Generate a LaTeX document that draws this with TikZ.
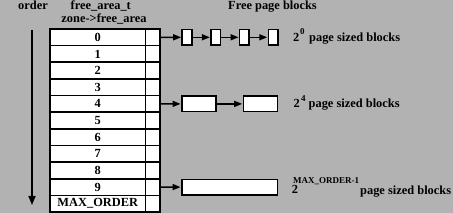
\documentclass[tikz,border=0pt]{standalone}
\usepackage{fontspec}
\setmainfont{Liberation Serif}
\usetikzlibrary{arrows.meta}
\definecolor{bg}{gray}{0.7}
\begin{document}
\begin{tikzpicture}[x=1pt,y=-1pt,
  txt/.style={font=\bfseries\fontsize{12.4}{13}\selectfont, inner sep=0pt},
  suptxt/.style={font=\bfseries\fontsize{9}{9}\selectfont, inner sep=0pt},
  cell/.style={draw, line width=1.6pt, fill=white, minimum height=16.64pt, inner sep=0pt, font=\bfseries\fontsize{12.4}{13}\selectfont},
  blk/.style={draw, line width=1.6pt, fill=white, minimum height=15.5pt, inner sep=0pt},
  arr/.style={line width=1.5pt, -{Triangle[length=8pt,width=6pt]}, shorten >=0.3pt}]
\fill[bg] (0,0) rectangle (453,213);
\useasboundingbox (0,0) rectangle (453,213);
% headers
\node[txt, anchor=base] (order) at (33,10) {order};
\node[txt, anchor=base] (fat) at (100.8,10) {free\_area\_t};
\node[txt, anchor=base] (zfa) at (104,22.5) {zone->free\_area};
\node[txt, anchor=base] (fpb) at (272.5,10) {Free page blocks};
% order arrow
\coordinate (otop) at (32,30);
\coordinate (obot) at (32,205);
\draw[line width=1.6pt, -{Triangle[length=9pt,width=7pt]}] (otop) -- (obot);
% table
\foreach \i/\t in {0/0,1/1,2/2,3/3,4/4,5/5,6/6,7/7,8/8,9/9,10/MAX\_ORDER} {
  \node[cell, minimum width=95.5pt] (r\i) at (97.75,{29+16.64*(\i+0.5)}) {\t};
  \node[cell, minimum width=14.5pt] (p\i) at (152.75,{29+16.64*(\i+0.5)}) {};
}
% row 0 blocks
\node[blk, minimum width=9.5pt] (b00) at (187,37.3) {};
\node[blk, minimum width=9.5pt] (b01) at (215.7,37.3) {};
\node[blk, minimum width=9.5pt] (b02) at (244.4,37.3) {};
\node[blk, minimum width=9.5pt] (b03) at (273.1,37.3) {};
\draw[arr] (p0.east) -- (b00.west);
\draw[arr] (b00.east) -- (b01.west);
\draw[arr] (b01.east) -- (b02.west);
\draw[arr] (b02.east) -- (b03.west);
% row 4 blocks
\node[blk, minimum width=34pt] (b40) at (198.7,103.9) {};
\node[blk, minimum width=34pt] (b41) at (260.3,103.9) {};
\draw[arr] (p4.east) -- (b40.west);
\draw[arr] (b40.east) -- (b41.west);
% row 9 block
\node[blk, minimum width=95.6pt] (b90) at (229.5,187.1) {};
\draw[arr] (p9.east) -- (b90.west);
% labels
\node[txt, anchor=base west] (l0) at (292.8,41.5) {2};
\node[suptxt, anchor=base west] (s0) at (300,34.3) {0};
\node[txt, anchor=base west] (t0) at (309,41.5) {page sized blocks};
\node[txt, anchor=base west] (l4) at (293.3,107.5) {2};
\node[suptxt, anchor=base west] (s4) at (301,101.5) {4};
\node[txt, anchor=base west] (t4) at (308.5,107.5) {page sized blocks};
\node[txt, anchor=base west] (l9) at (291.7,194) {2};
\node[suptxt, anchor=base west] (s9) at (293,183.5) {MAX\_ORDER-1};
\node[txt, anchor=base west] (t9) at (360,195) {page sized blocks};
\end{tikzpicture}
\end{document}
